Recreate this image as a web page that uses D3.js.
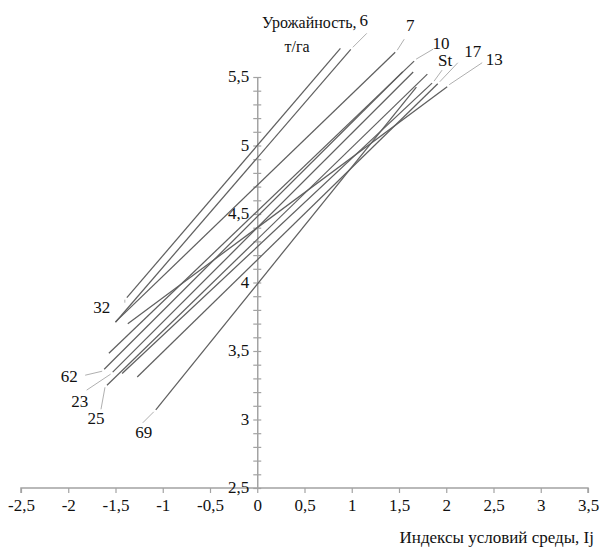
<!DOCTYPE html>
<html>
<head>
<meta charset="utf-8">
<script src="https://cdn.jsdelivr.net/npm/d3@7"></script>
<style>
  body { margin: 0; background: #fff; }
  text { font-family: "Liberation Serif", "Times New Roman", serif; fill: #111; }
</style>
</head>
<body>
<svg></svg>
<script>
// regression lines y = a + b*Ij, drawn over [ijMin, ijMax]
let varieties = ['32', '6', '7', '10', '13', '62', '23', '25', 'St', '17', '69']
let intercepts = [5.00, 4.91, 4.71, 4.52, 4.40, 4.48, 4.40, 4.315, 4.26, 4.165, 3.988]
let slopes = [0.805, 0.80, 0.665, 0.66, 0.512, 0.687, 0.689, 0.670, 0.646, 0.673, 0.854]
let ijMin = [-1.38, -1.50, -1.50, -1.57, -1.37, -1.62, -1.53, -1.59, -1.43, -1.27, -1.074]
let ijMax = [0.88, 0.99, 1.46, 1.66, 2.01, 1.54, 1.65, 1.80, 1.85, 1.91, 1.684]

let xTicks = [-2.5, -2, -1.5, -1, -0.5, 0, 0.5, 1, 1.5, 2, 2.5, 3, 3.5]
let yTicks = [2.5, 3, 3.5, 4, 4.5, 5, 5.5]

let yTitle = ['Урожайность,', 'т/га']
let xTitle = 'Индексы условий среды, Ij'

// where each label sits: which end of the line, leader end and label centre offsets (px)
let labelLayout = {
    '32': {end: 'min', lx: -2, ly: 5, tx: -25, ty: 9},
    '6':  {end: 'max', lx: 16, ly: -16, tx: 13, ty: -29},
    '7':  {end: 'max', lx: 9, ly: -13, tx: 15, ty: -27},
    '10': {end: 'max', lx: 19, ly: -12, tx: 27, ty: -18},
    '13': {end: 'max', lx: 35, ly: -24, tx: 47, ty: -28},
    '62': {end: 'min', lx: -19, ly: 6, tx: -35, ty: 7},
    '23': {end: 'min', lx: -26, ly: 18, tx: -33, ty: 29},
    '25': {end: 'min', lx: -6, ly: 24, tx: -11, ty: 33},
    'St': {end: 'max', lx: 10, ly: -13, tx: 13, ty: -23},
    '17': {end: 'max', lx: 20, ly: -21, tx: 35, ty: -33},
    '69': {end: 'min', lx: -13, ly: 13, tx: -12, ty: 22}
}

let width = 603
let height = 551
let svg = d3.select('svg').attr('width', width).attr('height', height)

let xScale = d3.scaleLinear().domain([-2.5, 3.5]).range([21, 588])
let yScale = d3.scaleLinear().domain([2.5, 5.5]).range([488, 77])

let axisColor = '#a3a3a3'

// x axis
let xAxis = d3.axisBottom(xScale)
    .tickValues(xTicks)
    .tickSize(5)
    .tickFormat(d => String(d).replace('.', ','))
let gx = svg.append('g')
    .attr('transform', 'translate(0,' + yScale(2.5) + ')')
    .call(xAxis)
gx.select('.domain').attr('stroke', axisColor).attr('stroke-width', 1.5).attr('d', 'M' + xScale(-2.5) + ',5V0H' + xScale(3.5) + 'V5')
gx.selectAll('.tick line').attr('stroke', axisColor).attr('stroke-width', 1.2)
gx.selectAll('.tick text')
    .attr('y', 11)
    .style('font-size', '17px')
    .style('font-family', '"Liberation Serif", serif')
    .attr('fill', '#111')

// y axis with minor ticks every 0.1
let minorTicks = d3.range(25, 56).map(v => v / 10)
let yAxis = d3.axisLeft(yScale)
    .tickValues(minorTicks)
    .tickSizeInner(4)
    .tickSizeOuter(0)
    .tickFormat('')
let gy = svg.append('g')
    .attr('transform', 'translate(' + xScale(0) + ',0)')
    .call(yAxis)
gy.select('.domain').attr('stroke', axisColor).attr('stroke-width', 1.5)
gy.selectAll('.tick line').attr('x2', 4).attr('x1', -4).attr('stroke', axisColor).attr('stroke-width', 1.2)

svg.append('g').selectAll('text')
    .data(yTicks)
    .enter()
    .append('text')
    .attr('x', xScale(0) - 8)
    .attr('y', d => yScale(d) + 5)
    .attr('text-anchor', 'end')
    .style('font-size', '17px')
    .text(d => String(d).replace('.', ','))

// regression lines
let lines = varieties.map((v, i) => ({
    name: v,
    x0: ijMin[i], y0: intercepts[i] + slopes[i] * ijMin[i],
    x1: ijMax[i], y1: intercepts[i] + slopes[i] * ijMax[i]
}))

svg.append('g').selectAll('line')
    .data(lines)
    .enter()
    .append('line')
    .attr('x1', d => xScale(d.x0))
    .attr('y1', d => yScale(d.y0))
    .attr('x2', d => xScale(d.x1))
    .attr('y2', d => yScale(d.y1))
    .attr('stroke', '#606060')
    .attr('stroke-width', 1.25)

// leaders and labels
let labelG = svg.append('g')
lines.forEach(d => {
    let l = labelLayout[d.name]
    let px = l.end == 'min' ? xScale(d.x0) : xScale(d.x1)
    let py = l.end == 'min' ? yScale(d.y0) : yScale(d.y1)
    let sx = l.end == 'min' ? -1 : 1
    labelG.append('line')
        .attr('x1', px + sx * 2)
        .attr('y1', py + (l.end == 'min' ? 2 : -2))
        .attr('x2', px + l.lx)
        .attr('y2', py + l.ly)
        .attr('stroke', '#b0b0b0')
        .attr('stroke-width', 1)
    labelG.append('text')
        .attr('x', px + l.tx)
        .attr('y', py + l.ty + 6)
        .attr('text-anchor', 'middle')
        .style('font-size', '17px')
        .text(d.name)
})

// titles
svg.append('text')
    .attr('x', 262)
    .attr('y', 28)
    .style('font-size', '16px')
    .text(yTitle[0])
svg.append('text')
    .attr('x', 297)
    .attr('y', 52)
    .attr('text-anchor', 'middle')
    .style('font-size', '16px')
    .text(yTitle[1])
svg.append('text')
    .attr('x', 594)
    .attr('y', 543)
    .attr('text-anchor', 'end')
    .style('font-size', '17px')
    .text(xTitle)
</script>
</body>
</html>
